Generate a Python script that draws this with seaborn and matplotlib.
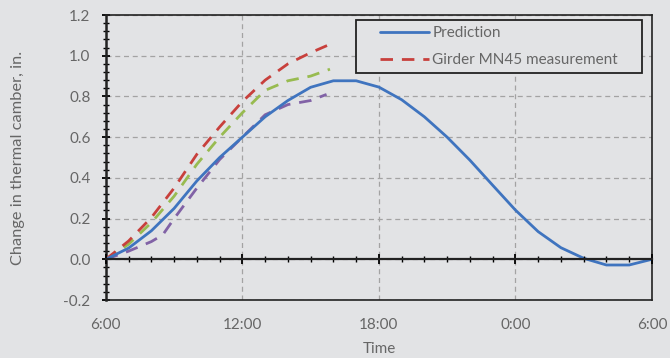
import matplotlib
matplotlib.use("Agg")
import matplotlib.pyplot as plt
from matplotlib.ticker import MultipleLocator, FixedLocator, FixedFormatter, FuncFormatter
from matplotlib.lines import Line2D
from matplotlib.legend_handler import HandlerLine2D
import seaborn as sns
import pandas as pd

# Hours after 6:00
pred_hours = list(range(0, 25))
pred_camber = [0.0, 0.055, 0.14, 0.25, 0.385, 0.50, 0.60, 0.70, 0.78, 0.845,
               0.877, 0.877, 0.846, 0.784, 0.70, 0.60, 0.487, 0.364, 0.242,
               0.136, 0.057, 0.005, -0.028, -0.028, 0.0]

meas_a_hours = [0, 1, 2, 3, 4, 5, 6, 7, 8, 9, 10.05]
meas_a_camber = [0.0, 0.09, 0.205, 0.35, 0.516, 0.65, 0.775, 0.88, 0.96, 1.015, 1.066]

meas_b_hours = [0, 1, 2, 3, 4, 5, 6, 7, 8, 9, 9.85]
meas_b_camber = [0.0, 0.074, 0.18, 0.31, 0.467, 0.60, 0.72, 0.83, 0.877, 0.90, 0.934]

meas_c_hours = [0, 1, 2, 2.5, 3, 4, 5, 6, 7, 8, 9, 9.7]
meas_c_camber = [0.0, 0.04, 0.087, 0.12, 0.2, 0.35, 0.49, 0.60, 0.71, 0.76, 0.78, 0.81]

x_tick_hours = [0, 6, 12, 18, 24]
x_tick_labels = ["6:00", "12:00", "18:00", "0:00", "6:00"]

bg = "#e2e3e5"
txt = "#666666"
fs = 11

sns.set_theme(style="white")
plt.rcParams["font.family"] = ["Lato", "DejaVu Sans"]

fig = plt.figure(figsize=(6.7, 3.58), dpi=100, facecolor=bg)
ax = fig.add_axes([0.158, 0.162, 0.815, 0.796], facecolor=bg)

pred = pd.DataFrame({"hour": pred_hours, "camber": pred_camber})
sns.lineplot(data=pred, x="hour", y="camber", ax=ax, color="#3f74bf",
             linewidth=2.0, label="Prediction", zorder=5)

meas_dashes = (4.5, 3.2)
for hrs, vals, col, lab in [
    (meas_c_hours, meas_c_camber, "#8162a6", None),
    (meas_b_hours, meas_b_camber, "#98bb50", None),
    (meas_a_hours, meas_a_camber, "#c8403c", "Girder MN45 measurement"),
]:
    df = pd.DataFrame({"hour": hrs, "camber": vals})
    line_kw = dict(label=lab) if lab else dict(legend=False)
    sns.lineplot(data=df, x="hour", y="camber", ax=ax, color=col,
                 linewidth=2.0, zorder=4, **line_kw)
    ax.lines[-1].set_dashes(meas_dashes)

ax.set_xlim(0, 24)
ax.set_ylim(-0.2, 1.2)

# y axis: majors every 0.2, minors every 0.04
ax.yaxis.set_major_locator(MultipleLocator(0.2))
ax.yaxis.set_minor_locator(MultipleLocator(0.04))
ax.yaxis.set_major_formatter(FuncFormatter(lambda v, p: f"{v:.1f}"))
ax.tick_params(axis="y", which="major", direction="inout", length=6, width=1.3,
               color="black", labelsize=fs, labelcolor=txt, pad=8, left=True)
ax.tick_params(axis="y", which="minor", direction="inout", length=4, width=1.0,
               color="black", left=True)

# x axis labels on the frame bottom, no ticks there
ax.xaxis.set_major_locator(FixedLocator(x_tick_hours))
ax.xaxis.set_major_formatter(FixedFormatter(x_tick_labels))
ax.tick_params(axis="x", which="major", length=0, labelsize=fs, labelcolor=txt, pad=13)

ax.grid(True, which="major", color="#a3a3a3", linestyle=(0, (4, 3)), linewidth=0.9)
ax.set_axisbelow(True)

for s in ax.spines.values():
    s.set_visible(True)
    s.set_color("#222222")
    s.set_linewidth(1.2)
ax.spines["left"].set_linewidth(1.8)

# zero line carrying hourly ticks
zx = ax.twiny()
zx.set_xlim(ax.get_xlim())
zx.spines["bottom"].set_position(("data", 0))
for name in ["top", "left", "right"]:
    zx.spines[name].set_visible(False)
zx.spines["bottom"].set_visible(True)
zx.spines["bottom"].set_color("#222222")
zx.spines["bottom"].set_linewidth(1.6)
zx.xaxis.set_ticks_position("bottom")
zx.xaxis.set_major_locator(FixedLocator(x_tick_hours))
zx.xaxis.set_minor_locator(MultipleLocator(1))
zx.tick_params(axis="x", which="major", direction="inout", length=7, width=1.3,
               color="black", labelbottom=False, labeltop=False)
zx.tick_params(axis="x", which="minor", direction="inout", length=4, width=1.0,
               color="black")

ax.set_xlabel("Time", fontsize=fs, color=txt, labelpad=7)
ax.set_ylabel("Change in thermal camber, in.", fontsize=11.8, color=txt, labelpad=28)

# legend frame spans a fixed box; handles are inset from its left edge
leg = ax.legend(loc="upper left", bbox_to_anchor=(0.458, 0.0, 0.524, 0.982),
                mode="expand", fontsize=fs, frameon=True, fancybox=False,
                edgecolor="#222222", facecolor=bg, framealpha=1,
                handlelength=4.4, handletextpad=0.2, borderpad=0.4,
                labelspacing=0.85, borderaxespad=0,
                handler_map={Line2D: HandlerLine2D(xpad=1.2)})
leg.get_frame().set_linewidth(1.3)
for t in leg.get_texts():
    t.set_color(txt)

fig.savefig("out.png", dpi=100, facecolor=bg)
